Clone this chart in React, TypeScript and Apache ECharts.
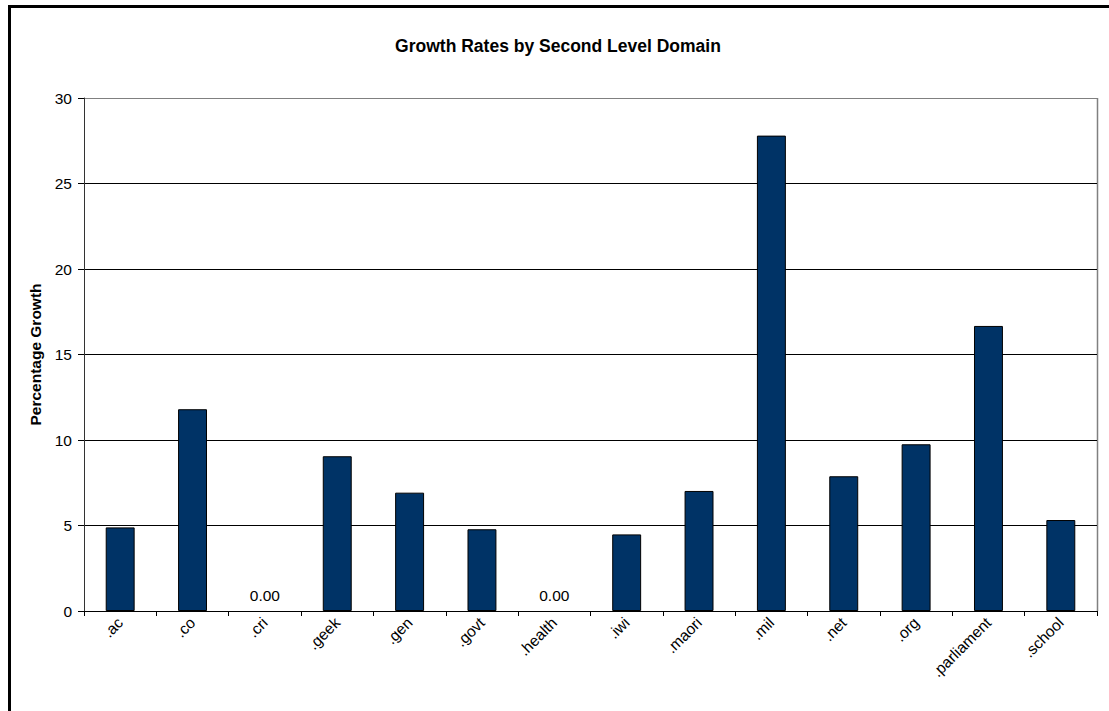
import React, { useEffect, useRef } from "react";
import * as echarts from "echarts";

// Second level domains and their percentage growth
const domains = [
  ".ac", ".co", ".cri", ".geek", ".gen", ".govt", ".health",
  ".iwi", ".maori", ".mil", ".net", ".org", ".parliament", ".school",
];
const growth = [4.89, 11.8, 0, 9.05, 6.92, 4.78, 0, 4.48, 7.02, 27.8, 7.88, 9.75, 16.67, 5.32];
const yTicks = { min: 0, max: 30, interval: 5 };

const FONT = "'Liberation Sans', Arial, Helvetica, sans-serif";
const LABEL_SIZE = 15.5;

export default function App() {
  const ref = useRef<HTMLDivElement>(null);

  useEffect(() => {
    document.body.style.margin = "0";
    document.body.style.overflow = "hidden";
    if (!ref.current) return;
    const chart = echarts.init(ref.current, undefined, { renderer: "svg" });

    // gridlines are black; the top one doubles as the grey plot-area border
    const splitColors = ["#000", "#000", "#000", "#000", "#000", "#000", "#808080"];

    chart.setOption({
      animation: false,
      backgroundColor: "#fff",
      textStyle: { fontFamily: FONT, color: "#000" },
      title: {
        text: "Growth Rates by Second Level Domain",
        left: 553,
        textAlign: "center",
        top: 32,
        textStyle: { fontFamily: FONT, fontSize: 17.5, fontWeight: "bold", color: "#000" },
      },
      graphic: [
        {
          type: "rect",
          shape: { x: 9.5, y: 6.5, width: 1300, height: 900 },
          style: { fill: "none", stroke: "#000", lineWidth: 3 },
          silent: true,
          z: 100,
        },
        {
          type: "line",
          shape: { x1: 1097.5, y1: 98, x2: 1097.5, y2: 611 },
          style: { stroke: "#808080", lineWidth: 1.5 },
          silent: true,
        },
      ],
      grid: { left: 84, top: 98, right: 12, bottom: 100, containLabel: false },
      xAxis: {
        type: "category",
        data: domains,
        boundaryGap: true,
        axisLine: { lineStyle: { color: "#000", width: 1 } },
        axisTick: { show: true, length: 5, alignWithLabel: false, lineStyle: { color: "#000" } },
        axisLabel: {
          rotate: 45,
          interval: 0,
          fontSize: LABEL_SIZE,
          margin: 9,
          color: "#000",
          fontFamily: FONT,
        },
      },
      yAxis: {
        type: "value",
        min: yTicks.min,
        max: yTicks.max,
        interval: yTicks.interval,
        name: "Percentage Growth",
        nameLocation: "middle",
        nameGap: 34,
        nameTextStyle: { fontFamily: FONT, fontSize: LABEL_SIZE, fontWeight: "bold", color: "#000" },
        axisLine: { show: true, lineStyle: { color: "#333", width: 1 } },
        axisTick: { show: true, length: 6, lineStyle: { color: "#000" } },
        axisLabel: { fontSize: LABEL_SIZE, margin: 12, color: "#000", fontFamily: FONT },
        splitLine: { show: true, lineStyle: { color: splitColors, width: 1 } },
      },
      series: [
        {
          type: "bar",
          data: growth.map((v) => ({
            value: v,
            itemStyle: v === 0 ? { borderWidth: 0 } : undefined,
            label: {
              show: v === 0,
              position: "top",
              distance: 8,
              formatter: (p: any) => Number(p.value).toFixed(2),
              fontSize: LABEL_SIZE,
              fontFamily: FONT,
              color: "#000",
            },
          })),
          barCategoryGap: "60%",
          itemStyle: { color: "#003366", borderColor: "#000", borderWidth: 1 },
        },
      ],
    });

    return () => chart.dispose();
  }, []);

  return <div ref={ref} style={{ width: 1109, height: 711 }} />;
}
